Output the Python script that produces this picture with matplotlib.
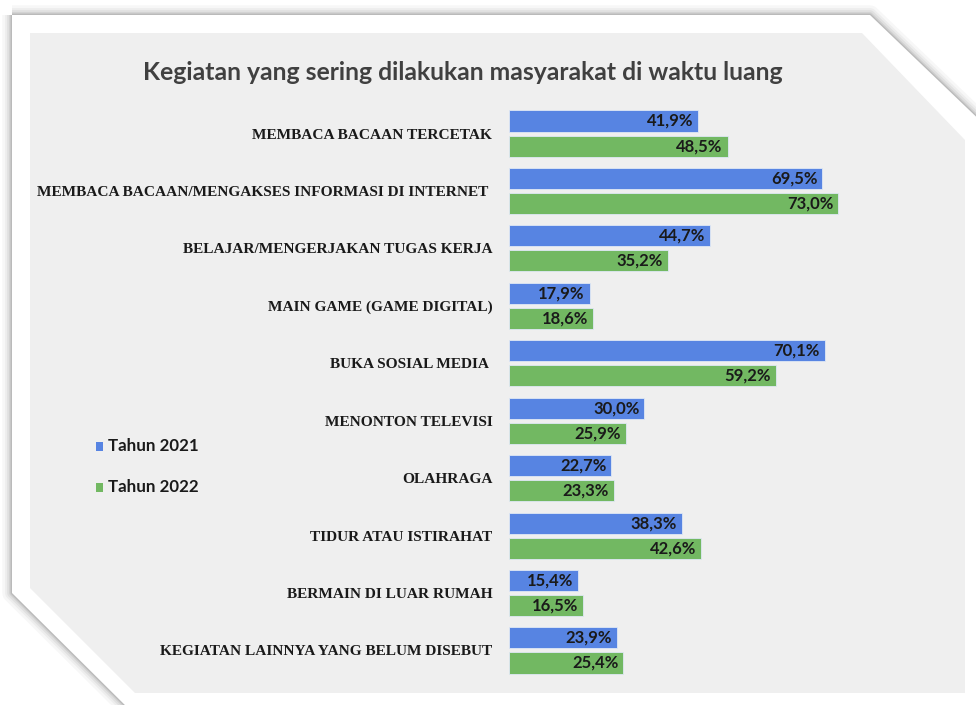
import matplotlib
matplotlib.use("Agg")
import matplotlib.pyplot as plt
from matplotlib.patches import Polygon
import numpy as np

categories = [
    "MEMBACA BACAAN TERCETAK",
    "MEMBACA BACAAN/MENGAKSES INFORMASI DI INTERNET ",
    "BELAJAR/MENGERJAKAN TUGAS KERJA",
    "MAIN GAME (GAME DIGITAL)",
    "BUKA SOSIAL MEDIA ",
    "MENONTON TELEVISI",
    "OLAHRAGA",
    "TIDUR ATAU ISTIRAHAT",
    "BERMAIN DI LUAR RUMAH",
    "KEGIATAN LAINNYA YANG BELUM DISEBUT",
]
tahun_2021 = [41.9, 69.5, 44.7, 17.9, 70.1, 30.0, 22.7, 38.3, 15.4, 23.9]
tahun_2022 = [48.5, 73.0, 35.2, 18.6, 59.2, 25.9, 23.3, 42.6, 16.5, 25.4]
series_names = ["Tahun 2021", "Tahun 2022"]
title = "Kegiatan yang sering dilakukan masyarakat di waktu luang"

BLUE = "#5784E2"
GREEN = "#72B862"
BG = "#EFEFEF"
W, H = 976, 705
SANS = ["Lato", "DejaVu Sans"]
SERIF = ["Liberation Serif", "DejaVu Serif"]

fig = plt.figure(figsize=(W / 100, H / 100), dpi=100)
fig.patch.set_facecolor("white")

def px(pts):
    return [(x / W, 1 - y / H) for x, y in pts]

outer = [(12, 15), (870, 15), (990, 130), (990, 720), (140, 720), (12, 593)]
inner = [(30, 33), (862, 33), (965, 140), (965, 693), (135, 693), (30, 588)]

# shadow
for lw, a in [(14, 0.03), (10, 0.04), (7, 0.05), (4, 0.07), (2, 0.1)]:
    fig.patches.append(Polygon(px(outer), closed=True, transform=fig.transFigure,
                               facecolor="none", edgecolor="black", lw=lw, alpha=a,
                               joinstyle="round", zorder=0))
fig.patches.append(Polygon(px(outer), closed=True, transform=fig.transFigure,
                           facecolor="white", edgecolor="none", zorder=1))
fig.patches.append(Polygon(px(inner), closed=True, transform=fig.transFigure,
                           facecolor=BG, edgecolor="none", zorder=2))

# axes placement (pixels)
x0, x1 = 509, 938
scale = 4.507  # px per percent
y_top, y_bot = 104.8, 679.2
ax = fig.add_axes([x0 / W, 1 - y_bot / H, (x1 - x0) / W, (y_bot - y_top) / H])
ax.set_zorder(5)
ax.set_facecolor("none")
ax.set_xlim(0, (x1 - x0) / scale)
n = len(categories)
ax.set_ylim(n - 0.5, -0.5)
for s in ax.spines.values():
    s.set_visible(False)

y = np.arange(n)
off = 0.218
h = 0.366
b1 = ax.barh(y - off, tahun_2021, height=h, color=BLUE, edgecolor="#dfe8f5", lw=0.6, label=series_names[0])
b2 = ax.barh(y + off, tahun_2022, height=h, color=GREEN, edgecolor="#dfe8f5", lw=0.6, label=series_names[1])

for bars, vals in ((b1, tahun_2021), (b2, tahun_2022)):
    for rect, v in zip(bars, vals):
        ax.annotate(f"{v:.1f}%".replace(".", ","),
                    xy=(rect.get_width(), rect.get_y() + rect.get_height() / 2),
                    xytext=(-3.5, 0), textcoords="offset points",
                    ha="right", va="center", fontsize=12, fontweight="bold",
                    family=SANS, color="#1a1a1a")

ax.set_xticks([])
ax.set_yticks(y)
ax.set_yticklabels(categories, family=SERIF, fontsize=11.1, fontweight="bold", color="#1a1a1a")
ax.tick_params(axis="y", length=0, pad=12)

fig.text(463 / W, 1 - 72 / H, title, ha="center", va="center", fontsize=17.8,
         fontweight="bold", family=SANS, color="#404040")

# legend
for i, (name, col) in enumerate(zip(series_names, [BLUE, GREEN])):
    yy = 446 + i * 41
    fig.patches.append(Polygon(px([(96, yy - 4.5), (103, yy - 4.5), (103, yy + 4.5), (96, yy + 4.5)]),
                               closed=True, transform=fig.transFigure, facecolor=col,
                               edgecolor="none", zorder=3))
    fig.text(108 / W, 1 - yy / H, name, ha="left", va="center", fontsize=12.2,
             fontweight="bold", family=SANS, color="#1a1a1a")

fig.savefig("out.png", dpi=100, facecolor="white")
